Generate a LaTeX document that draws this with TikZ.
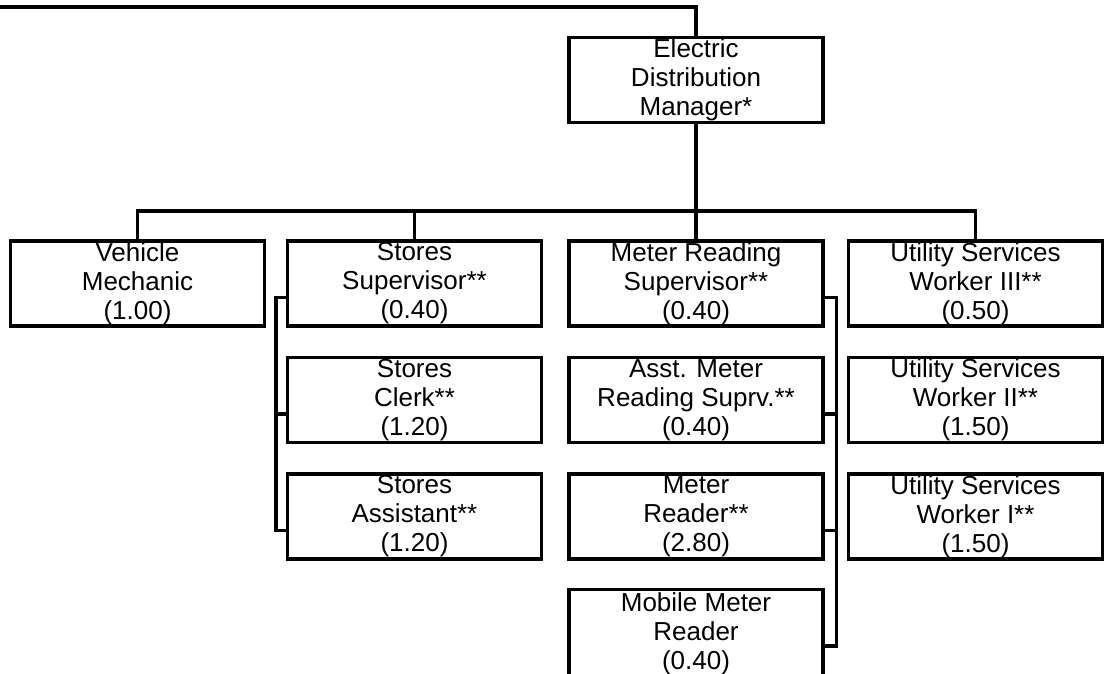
\documentclass[tikz,border=0pt]{standalone}
\usepackage{fontspec}
\setmainfont{Liberation Sans}
\tikzset{post/.style={draw,minimum width=254pt,minimum height=85pt,inner sep=0pt,align=center,font=\fontsize{26}{29}\selectfont}}
\begin{document}
\begin{tikzpicture}[x=1pt,y=-1pt,line width=3.1pt]
            \def\ra{283.5} \def\rb{400} \def\rc{516.5}
            \def\cs{414.5} \def\cm{696} \def\cu{975.5}
            \useasboundingbox (0,0) rectangle (1104,674);
            \clip (0,0) rectangle (1104,674);
            \node[post] (mgr) at (\cm,80) {Electric\\Distribution\\Manager*};
            \node[post] (veh) at (137.5,\ra) {Vehicle\\Mechanic\\(1.00)};
            \node[post] (ssup) at (\cs,\ra) {Stores\\Supervisor**\\(0.40)};
            \node[post] (msup) at (\cm,\ra) {Meter Reading\\Supervisor**\\(0.40)};
            \node[post] (usw3) at (\cu,\ra) {Utility Services\\Worker III**\\(0.50)};
            \node[post] (sclk) at (\cs,\rb) {Stores\\Clerk**\\(1.20)};
            \node[post] (amrs) at (\cm,\rb) {Asst. Meter\\Reading Suprv.**\\(0.40)};
            \node[post] (usw2) at (\cu,\rb) {Utility Services\\Worker II**\\(1.50)};
            \node[post] (sast) at (\cs,\rc) {Stores\\Assistant**\\(1.20)};
            \node[post] (mrdr) at (\cm,\rc) {Meter\\Reader**\\(2.80)};
            \node[post] (usw1) at (\cu,\rc) {Utility Services\\Worker I**\\(1.50)};
            \node[post,minimum height=89pt] (mmr) at (\cm,634) {Mobile Meter\\Reader\\(0.40)};
            % lines from the top and the bus
            \coordinate (corner) at (-2,7);
            \coordinate (bus) at (\cm,211);
            \draw (mgr.north) |- (corner);
            \draw (mgr.south) -- (msup.north);
            \draw (veh.north) |- (bus) -| (usw3.north);
            \draw (ssup.north) -- (ssup.north |- bus);
            % brackets
            \draw ([yshift=-58pt]ssup.north west) -- ++(-10,0) |- ([yshift=-58pt]sast.north west);
            \draw ([yshift=-58pt]sclk.north west) -- ++(-10,0);
            \draw ([yshift=-58pt]msup.north east) -- ++(12,0) |- ([yshift=-58pt]mmr.north east);
            \draw ([yshift=-58pt]amrs.north east) -- ++(12,0);
            \draw ([yshift=-58pt]mrdr.north east) -- ++(12,0);
        \end{tikzpicture}
\end{document}
